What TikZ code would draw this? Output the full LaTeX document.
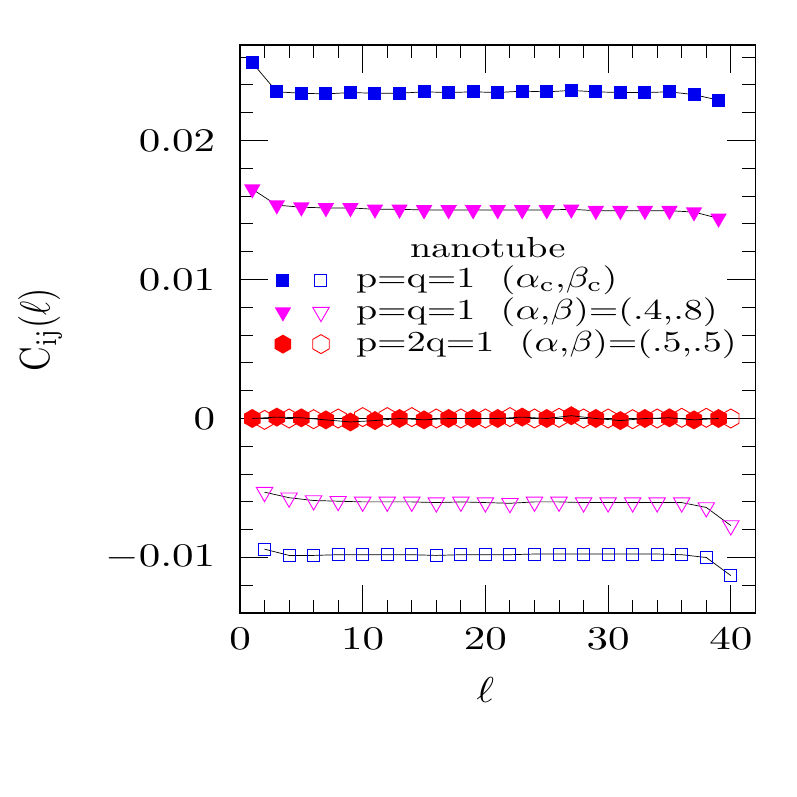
\documentclass[tikz,border=0pt]{standalone}
\usetikzlibrary{shapes.geometric}
\definecolor{cblue}{RGB}{0,0,240}
\definecolor{cmag}{RGB}{255,0,255}
\definecolor{cred}{RGB}{255,0,0}
\tikzset{
  sqfill/.style={rectangle,fill=cblue,inner sep=0pt,minimum size=13pt},
  sqopen/.style={rectangle,draw=cblue,line width=1pt,inner sep=0pt,minimum size=12pt},
  trifill/.style={regular polygon,regular polygon sides=3,shape border rotate=180,fill=cmag,inner sep=0pt,minimum size=19pt},
  triopen/.style={regular polygon,regular polygon sides=3,shape border rotate=180,draw=cmag,line width=0.9pt,inner sep=0pt,minimum size=19pt},
  hexfill/.style={regular polygon,regular polygon sides=6,shape border rotate=90,fill=cred,inner sep=0pt,minimum size=19pt},
  hexopen/.style={regular polygon,regular polygon sides=6,shape border rotate=90,draw=cred,line width=0.9pt,inner sep=0pt,minimum size=19pt},
  dataline/.style={line width=0.7pt,black},
  ticklab/.style={xscale=4.3,yscale=3.3,inner sep=1pt},
  legtext/.style={xscale=3.8,yscale=2.9,anchor=west,inner sep=0pt}
}
\begin{document}
\begin{tikzpicture}[x=1pt,y=1pt]
\useasboundingbox (0,0) rectangle (797,797);
\begin{scope}[shift={(240,378.5)},x=12.27pt,y=13.9pt]
  % frame and ticks
  \draw[line width=1.4pt] (0,-14) rectangle (42,26.87);
  \draw[dataline] (0,0) -- (42,0);
  \foreach \t in {2,4,...,40}{
    \draw[line width=1pt] (\t,-14) -- ++(0,13pt);
    \draw[line width=1pt] (\t,26.87) -- ++(0,-13pt);
  }
  \foreach \t in {0,10,20,30,40}{
    \draw[line width=1pt] (\t,-14) -- ++(0,28pt);
    \draw[line width=1pt] (\t,26.87) -- ++(0,-28pt);
    \node[ticklab,anchor=north] (xl\t) at (\t,-14.8) {$\t$};
  }
  \foreach \t in {-12,-10,...,26}{
    \draw[line width=1pt] (0,\t) -- ++(13pt,0);
    \draw[line width=1pt] (42,\t) -- ++(-13pt,0);
  }
  \foreach \t/\lab in {-10/{-0.01},0/0,10/0.01,20/0.02}{
    \draw[line width=1pt] (0,\t) -- ++(28pt,0);
    \draw[line width=1pt] (42,\t) -- ++(-28pt,0);
    \node[ticklab,anchor=east] (yl\t) at (-1.6,\t) {$\lab$};
  }
  % data lines
  \draw[dataline] plot coordinates {(1,25.6) (3,23.5) (5,23.4) (7,23.35) (9,23.45) (11,23.4) (13,23.4) (15,23.5) (17,23.45) (19,23.5) (21,23.45) (23,23.55) (25,23.5) (27,23.6) (29,23.5) (31,23.45) (33,23.45) (35,23.5) (37,23.3) (39,22.9)};
  \draw[dataline] plot coordinates {(2,-9.4) (4,-9.85) (6,-9.85) (8,-9.8) (10,-9.8) (12,-9.8) (14,-9.8) (16,-9.85) (18,-9.8) (20,-9.8) (22,-9.8) (24,-9.75) (26,-9.75) (28,-9.75) (30,-9.75) (32,-9.75) (34,-9.75) (36,-9.8) (38,-10.0) (40,-11.3)};
  \draw[dataline] plot coordinates {(1,16.5) (3,15.35) (5,15.2) (7,15.15) (9,15.15) (11,15.05) (13,15.05) (15,15.0) (17,15.0) (19,15.0) (21,15.0) (23,15.0) (25,15.0) (27,15.05) (29,14.95) (31,14.95) (33,14.95) (35,14.95) (37,14.85) (39,14.4)};
  \draw[dataline] plot coordinates {(2,-5.3) (4,-5.7) (6,-5.9) (8,-5.95) (10,-6.0) (12,-6.0) (14,-6.0) (16,-6.05) (18,-6.0) (20,-6.05) (22,-6.1) (24,-6.0) (26,-6.0) (28,-6.05) (30,-6.05) (32,-6.05) (34,-6.05) (36,-6.05) (38,-6.4) (40,-7.7)};
  % markers
  \foreach \px/\py in {1/25.6,3/23.5,5/23.4,7/23.35,9/23.45,11/23.4,13/23.4,15/23.5,17/23.45,19/23.5,21/23.45,23/23.55,25/23.5,27/23.6,29/23.5,31/23.45,33/23.45,35/23.5,37/23.3,39/22.9}
    \node[sqfill] (bf\px) at (\px,\py) {};
  \foreach \px/\py in {2/-9.4,4/-9.85,6/-9.85,8/-9.8,10/-9.8,12/-9.8,14/-9.8,16/-9.85,18/-9.8,20/-9.8,22/-9.8,24/-9.75,26/-9.75,28/-9.75,30/-9.75,32/-9.75,34/-9.75,36/-9.8,38/-10.0,40/-11.3}
    \node[sqopen] (bo\px) at (\px,\py) {};
  \foreach \px/\py in {1/16.5,3/15.35,5/15.2,7/15.15,9/15.15,11/15.05,13/15.05,15/15.0,17/15.0,19/15.0,21/15.0,23/15.0,25/15.0,27/15.05,29/14.95,31/14.95,33/14.95,35/14.95,37/14.85,39/14.4}
    \node[trifill] (mf\px) at (\px,\py) {};
  \foreach \px/\py in {2/-5.3,4/-5.7,6/-5.9,8/-5.95,10/-6.0,12/-6.0,14/-6.0,16/-6.05,18/-6.0,20/-6.05,22/-6.1,24/-6.0,26/-6.0,28/-6.05,30/-6.05,32/-6.05,34/-6.05,36/-6.05,38/-6.4,40/-7.7}
    \node[triopen] (mo\px) at (\px,\py) {};
  \foreach \px/\py in {1/0,3/0.1,5/0.05,7/-0.1,9/-0.25,11/-0.15,13/0,15/-0.1,17/0,19/0,21/0,23/0.1,25/0,27/0.2,29/0,31/-0.15,33/0,35/0.05,37/-0.1,39/0}
    \node[hexfill] (rf\px) at (\px,\py) {};
  \foreach \px/\py in {2/-0.1,4/0,6/-0.05,8/0,10/0.1,12/0.1,14/0.1,16/0,18/0,20/0,22/0.1,24/0,26/0.05,28/0,30/0,32/-0.05,34/0,36/0.05,38/0.05,40/0}
    \node[hexopen] (ro\px) at (\px,\py) {};
  \draw[dataline] plot coordinates {(1,0) (3,0.1) (5,0.05) (7,-0.1) (9,-0.25) (11,-0.15) (13,0) (15,-0.1) (17,0) (19,0) (21,0) (23,0.1) (25,0) (27,0.2) (29,0) (31,-0.15) (33,0) (35,0.05) (37,-0.1) (39,0)};
  % legend
  \node[xscale=3.8,yscale=2.9] (legtitle) at (20.2,12.3) {nanotube};
  \node[sqfill] (lg1a) at (3.5,9.95) {};
  \node[sqopen] (lg1b) at (6.6,9.95) {};
  \node[legtext] (lg1t) at (9.4,9.95) {p=q=1~~($\alpha_{\mathrm{c}}$,$\beta_{\mathrm{c}}$)};
  \node[trifill] (lg2a) at (3.5,7.65) {};
  \node[triopen] (lg2b) at (6.6,7.65) {};
  \node[legtext] (lg2t) at (9.4,7.65) {p=q=1~~($\alpha$,$\beta$)=(.4,.8)};
  \node[hexfill] (lg3a) at (3.5,5.35) {};
  \node[hexopen] (lg3b) at (6.6,5.35) {};
  \node[legtext] (lg3t) at (9.4,5.35) {p=2q=1~~($\alpha$,$\beta$)=(.5,.5)};
  % axis labels
  \node[xscale=4.2,yscale=3.6] (xlabel) at (20,-19.5) {$\ell$};
  \node[xscale=4.2,yscale=3.4,rotate=90] (ylabel) at (-16.3,6.4) {C$_{\mathrm{ij}}(\ell)$};
\end{scope}
\end{tikzpicture}
\end{document}
